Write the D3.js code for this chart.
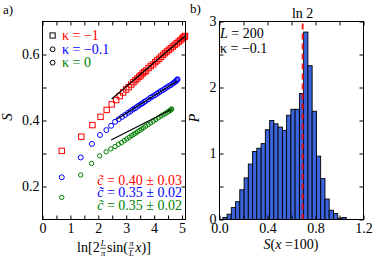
<!DOCTYPE html>
<meta charset="utf-8">
<script src="https://cdn.jsdelivr.net/npm/d3@7"></script>
<style>
body { margin: 0; background: #fff; }
text { font-family: "Liberation Serif", "DejaVu Serif", serif; fill: #000; }
.tick text { font-size: 14px; }
</style>
<body>
<script>

// panel a) S vs ln[2 L/pi sin(pi x/L)]
var redX = [0.69, 1.39, 1.79, 2.08, 2.30, 2.48, 2.64, 2.77, 2.89, 3.00, 3.09, 3.18, 3.26, 3.33, 3.40, 3.47, 3.53,
  3.59, 3.65, 3.71, 3.80, 3.88, 3.96, 4.04, 4.11, 4.18, 4.25, 4.32, 4.39, 4.46, 4.53, 4.60, 4.67, 4.74, 4.81, 4.88, 4.94,
  5.00, 5.05, 5.09, 5.11];
var redS = [0.308, 0.351, 0.386, 0.411, 0.432, 0.449, 0.462, 0.474, 0.485, 0.494, 0.501, 0.509, 0.516, 0.522, 0.527, 0.533, 0.537,
  0.543, 0.547, 0.551, 0.559, 0.565, 0.570, 0.577, 0.582, 0.587, 0.593, 0.599, 0.604, 0.609, 0.614, 0.619, 0.624, 0.629, 0.634, 0.639, 0.643,
  0.648, 0.652, 0.654, 0.656];
var blueX = [0.69, 1.37, 1.77, 2.06, 2.29, 2.46, 2.60, 2.73, 2.85, 2.96, 3.06, 3.15, 3.23, 3.31, 3.38, 3.45, 3.52,
  3.58, 3.64, 3.70, 3.79, 3.87, 3.95, 4.03, 4.10, 4.17, 4.24, 4.31, 4.38, 4.45, 4.52, 4.59, 4.65, 4.70, 4.75, 4.79, 4.82, 4.84];
var blueS = [0.228, 0.288, 0.329, 0.356, 0.371, 0.384, 0.396, 0.404, 0.411, 0.417, 0.423, 0.428, 0.433, 0.437, 0.441, 0.445, 0.449,
  0.452, 0.456, 0.459, 0.464, 0.469, 0.473, 0.477, 0.481, 0.485, 0.489, 0.492, 0.496, 0.500, 0.504, 0.507, 0.511, 0.514, 0.517, 0.520, 0.523, 0.525];
var greenX = [0.69, 1.37, 1.76, 2.05, 2.28, 2.45, 2.60, 2.72, 2.83, 2.93, 3.02, 3.11, 3.19, 3.27, 3.34, 3.41, 3.48,
  3.55, 3.62, 3.70, 3.79, 3.88, 3.97, 4.06, 4.15, 4.24, 4.32, 4.40, 4.47, 4.53, 4.58, 4.61, 4.63];
var greenS = [0.167, 0.235, 0.270, 0.293, 0.305, 0.314, 0.321, 0.328, 0.333, 0.339, 0.344, 0.349, 0.354, 0.358, 0.362, 0.366, 0.370,
  0.374, 0.378, 0.383, 0.388, 0.393, 0.398, 0.403, 0.408, 0.413, 0.417, 0.421, 0.425, 0.428, 0.431, 0.433, 0.435];

var fitRed = [[2.48, 0.465], [5.11, 0.656]];
var fitBlue = [[2.66, 0.404], [4.83, 0.520]];
var fitGreen = [[2.46, 0.341], [4.63, 0.434]];

var kappaLabels = ["\u03ba = \u22121", "\u03ba = \u22120.1", "\u03ba = 0"];
var cLabels = ["0.40 \u00b1 0.03", "0.35 \u00b1 0.02", "0.35 \u00b1 0.02"];

var xTicksA = [0, 0.5, 1, 1.5, 2, 2.5, 3, 3.5, 4, 4.5, 5];
var xLabelsA = ["0", "", "1", "", "2", "", "3", "", "4", "", "5"];
var yTicksA = [0.2, 0.3, 0.4, 0.5, 0.6];
var yLabelsA = ["0.2", "", "0.4", "", "0.6"];

// panel b) histogram of S(x=100)
var binEdges = [0.028, 0.063, 0.098, 0.134, 0.169, 0.205, 0.240, 0.276, 0.311, 0.347, 0.382, 0.418, 0.453, 0.488, 0.524,
  0.559, 0.595, 0.630, 0.666, 0.701, 0.737, 0.772, 0.808, 0.843, 0.879, 0.914, 0.950, 0.985, 1.021, 1.056];
var binP = [0.03, 0.08, 0.18, 0.27, 0.45, 0.63, 0.84, 1.03, 1.08, 1.15, 1.36, 1.50, 1.45, 1.40, 1.35,
  1.58, 1.67, 1.67, 1.91, 2.84, 2.33, 1.64, 0.96, 0.62, 0.31, 0.14, 0.09, 0.02, 0.03];
var ln2 = 0.693;

var xTicksB = [0, 0.2, 0.4, 0.6, 0.8, 1.0, 1.2];
var xLabelsB = ["0.0", "", "0.4", "", "0.8", "", "1.2"];
var yTicksB = [0, 0.5, 1, 1.5, 2, 2.5, 3];
var yLabelsB = ["0", "", "1", "", "2", "", "3"];

var width = 374, height = 260;

var svg = d3.select("body").append("svg")
    .attr("width", width)
    .attr("height", height);

var xA = d3.scaleLinear().domain([0, 5.125]).range([42.5, 185.5]);
var yA = d3.scaleLinear().domain([0.1, 0.7]).range([219.5, 21.5]);
var xB = d3.scaleLinear().domain([0, 1.2]).range([219.5, 363.5]);
var yB = d3.scaleLinear().domain([0, 3]).range([219.5, 21.5]);

function frame(x, y, xt, xl, yt, yl) {
  var x0 = x.range()[0], x1 = x.range()[1], y0 = y.range()[0], y1 = y.range()[1];
  svg.append("g").attr("transform", "translate(0," + y0 + ")")
      .call(d3.axisBottom(x).tickValues(xt).tickSize(-4).tickPadding(4)
        .tickFormat(function(d, i) { return xl[i]; }));
  svg.append("g").attr("transform", "translate(0," + y1 + ")")
      .call(d3.axisTop(x).tickValues(xt).tickSize(-4).tickFormat(""));
  svg.append("g").attr("transform", "translate(" + x0 + ",0)")
      .call(d3.axisLeft(y).tickValues(yt).tickSize(-4).tickPadding(3)
        .tickFormat(function(d, i) { return yl[i]; }));
  svg.append("g").attr("transform", "translate(" + x1 + ",0)")
      .call(d3.axisRight(y).tickValues(yt).tickSize(-4).tickFormat(""));
  svg.selectAll(".domain").remove();
  svg.append("rect")
      .attr("x", x0).attr("y", y1)
      .attr("width", x1 - x0).attr("height", y0 - y1)
      .attr("fill", "none").attr("stroke", "#000").attr("stroke-width", 1);
}

// ---- panel a
var series = [
  {x: redX, s: redS, fit: fitRed, color: "#ff0000", shape: "square"},
  {x: blueX, s: blueS, fit: fitBlue, color: "#0000ff", shape: "circle", r: 2.5},
  {x: greenX, s: greenS, fit: fitGreen, color: "#008000", shape: "circle", r: 2.2}
];

var plotA = svg.append("g");
series.forEach(function(sr) {
  var pts = sr.x.map(function(v, i) { return [v, sr.s[i]]; });
  if (sr.shape == "square") {
    plotA.selectAll(null).data(pts).enter().append("rect")
        .attr("x", function(d) { return xA(d[0]) - 2.7; })
        .attr("y", function(d) { return yA(d[1]) - 2.7; })
        .attr("width", 5.4).attr("height", 5.4)
        .attr("fill", "none").attr("stroke", sr.color).attr("stroke-width", 1);
  } else {
    plotA.selectAll(null).data(pts).enter().append("circle")
        .attr("cx", function(d) { return xA(d[0]); })
        .attr("cy", function(d) { return yA(d[1]); })
        .attr("r", sr.r)
        .attr("fill", "none").attr("stroke", sr.color).attr("stroke-width", 1);
  }
});

var line = d3.line().x(function(d) { return xA(d[0]); }).y(function(d) { return yA(d[1]); });
series.forEach(function(sr) {
  plotA.append("path").attr("d", line(sr.fit))
      .attr("fill", "none").attr("stroke", "#000").attr("stroke-width", 1.2);
});

frame(xA, yA, xTicksA, xLabelsA, yTicksA, yLabelsA);

// legend
var legY = [35.5, 49.3, 62.7];
series.forEach(function(sr, i) {
  if (sr.shape == "square") {
    svg.append("rect").attr("x", 50).attr("y", legY[i] - 2.6).attr("width", 5.2).attr("height", 5.2)
        .attr("fill", "none").attr("stroke", "#000");
  } else {
    svg.append("circle").attr("cx", 52.6).attr("cy", legY[i]).attr("r", 2.4)
        .attr("fill", "none").attr("stroke", "#000");
  }
  svg.append("text").attr("x", 62).attr("y", legY[i]).attr("dy", "0.33em")
      .style("font-size", "14px").style("fill", sr.color)
      .text(kappaLabels[i]);
});

// c~ values
var cY = [184.5, 197, 209.5];
series.forEach(function(sr, i) {
  var t = svg.append("text").attr("x", 182).attr("y", cY[i]).attr("text-anchor", "end")
      .style("font-size", "14px").style("fill", sr.color);
  t.append("tspan").style("font-style", "italic").text("c\u0303");
  t.append("tspan").text(" = " + cLabels[i]);
});

// axis labels
function mathLabel(g, parts, size) {
  var x = 0;
  parts.forEach(function(p) {
    if (p.frac) {
      var small = size * 0.62;
      var n = g.append("text").attr("y", -size * 0.42).style("font-size", small + "px")
          .style("font-style", "italic").attr("text-anchor", "middle").text(p.frac[0]);
      var d = g.append("text").attr("y", size * 0.3).style("font-size", small + "px")
          .style("font-style", "italic").attr("text-anchor", "middle").text(p.frac[1]);
      var w = Math.max(n.node().getComputedTextLength(), d.node().getComputedTextLength()) + 1;
      n.attr("x", x + w / 2 + 0.5);
      d.attr("x", x + w / 2 + 0.5);
      g.append("line").attr("x1", x + 0.5).attr("x2", x + w + 0.5)
          .attr("y1", -size * 0.27).attr("y2", -size * 0.27)
          .attr("stroke", "#000").attr("stroke-width", 0.7);
      x += w + 1.5;
    } else {
      var t = g.append("text").attr("x", x).style("font-size", size + "px").text(p.t);
      if (p.it) t.style("font-style", "italic");
      x += t.node().getComputedTextLength();
    }
  });
  return x;
}

var labA = svg.append("g");
var wA = mathLabel(labA, [{t: "ln[2"}, {frac: ["L", "\u03c0"]}, {t: "sin("}, {frac: ["\u03c0", "L"]},
  {t: "x", it: true}, {t: ")]"}], 14);
labA.attr("transform", "translate(" + (114 - wA / 2) + ",252)");

svg.append("text")
    .attr("transform", "translate(12,117) rotate(-90)")
    .attr("text-anchor", "middle")
    .style("font-size", "15px").style("font-style", "italic")
    .text("S");

svg.append("text").attr("x", 3).attr("y", 14).style("font-size", "13px").text("a)");

// ---- panel b
var bars = binP.map(function(p, i) { return {x0: binEdges[i], x1: binEdges[i + 1], p: p}; });

svg.append("g").selectAll("rect").data(bars).enter().append("rect")
    .attr("x", function(d) { return xB(d.x0); })
    .attr("y", function(d) { return yB(d.p); })
    .attr("width", function(d) { return xB(d.x1) - xB(d.x0); })
    .attr("height", function(d) { return yB(0) - yB(d.p); })
    .attr("fill", "#3b63dc")
    .attr("stroke", "#000")
    .attr("stroke-width", 0.9);

svg.append("line")
    .attr("x1", xB(ln2)).attr("x2", xB(ln2))
    .attr("y1", yB(0)).attr("y2", yB(3))
    .attr("stroke", "#ff0000").attr("stroke-width", 2)
    .attr("stroke-dasharray", "6,4")
    .attr("opacity", 0.85);

frame(xB, yB, xTicksB, xLabelsB, yTicksB, yLabelsB);

svg.append("text").attr("x", xB(ln2)).attr("y", 18).attr("text-anchor", "middle")
    .style("font-size", "14px").text("ln 2");

var tL = svg.append("text").attr("x", 220).attr("y", 38).style("font-size", "14px");
tL.append("tspan").style("font-style", "italic").text("L");
tL.append("tspan").text(" = 200");
svg.append("text").attr("x", 220).attr("y", 53).style("font-size", "14px").text("\u03ba = \u22120.1");

var xl = svg.append("text").attr("x", 291).attr("y", 249).attr("text-anchor", "middle").style("font-size", "14px");
xl.append("tspan").style("font-style", "italic").text("S");
xl.append("tspan").text("(");
xl.append("tspan").style("font-style", "italic").text("x");
xl.append("tspan").text(" =100)");

svg.append("text")
    .attr("transform", "translate(199,118) rotate(-90)")
    .attr("text-anchor", "middle")
    .style("font-size", "14px").style("font-style", "italic")
    .text("P");

svg.append("text").attr("x", 190).attr("y", 13).style("font-size", "13px").text("b)");

</script>
</body>
